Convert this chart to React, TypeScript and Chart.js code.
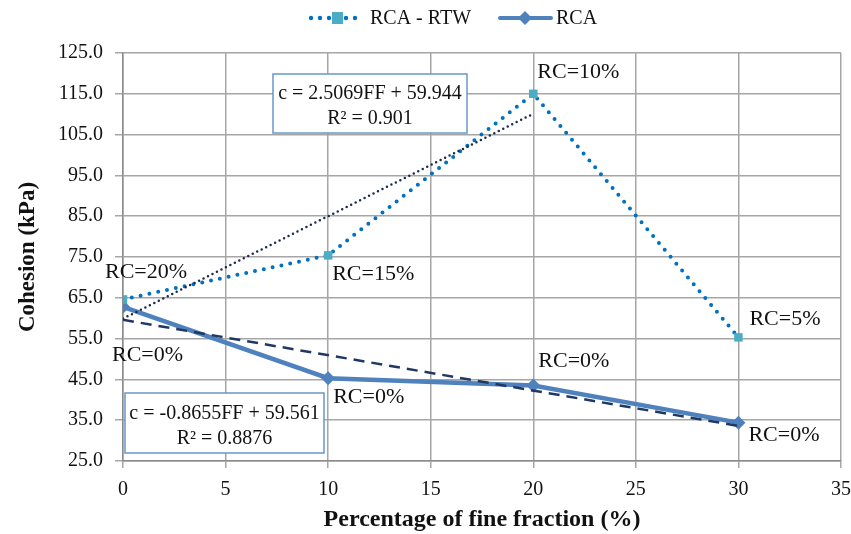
import React, { useEffect, useRef } from "react";
import { Chart, registerables } from "chart.js";

Chart.register(...registerables);

// ---- data ----
const fineFraction = [0, 10, 20, 30];
const cohesionRTW = [64.6, 75.4, 115.0, 55.3];
const cohesionRCA = [62.8, 45.3, 43.5, 34.4];
const pointLabelsRTW = ["RC=20%", "RC=15%", "RC=10%", "RC=5%"];
const pointLabelsRCA = ["RC=0%", "RC=0%", "RC=0%", "RC=0%"];
const trendRTWx = [0, 20];
const trendRTWy = [59.9, 110.1];
const trendRCAx = [0, 30];
const trendRCAy = [59.6, 33.6];
const xTickValues = [0, 5, 10, 15, 20, 25, 30, 35];
const yTickValues = [25, 35, 45, 55, 65, 75, 85, 95, 105, 115, 125];
const equationRTW = ["c = 2.5069FF + 59.944", "R² = 0.901"];
const equationRCA = ["c = -0.8655FF + 59.561", "R² = 0.8876"];
const seriesNames = ["RCA - RTW", "RCA"];

const FONT = "'Liberation Serif', 'Times New Roman', serif";

const toPts = (xs: number[], ys: number[]) => xs.map((x, i) => ({ x, y: ys[i] }));

// label offsets (pixels from the data point: left edge, vertical centre)
const offRTW = [
  [-18, -27],
  [4, 19],
  [4, -22],
  [11, -18],
];
const offRCA = [
  [-11, 48],
  [5, 19],
  [5, -24],
  [10, 13],
];

const annotationPlugin = {
  id: "annots",
  afterDatasetsDraw(chart: any) {
    const { ctx, scales, chartArea } = chart;
    const xs = scales.x;
    const ys = scales.y;
    ctx.save();
    ctx.fillStyle = "#111";
    ctx.font = `22px ${FONT}`;
    ctx.textBaseline = "middle";
    ctx.textAlign = "left";
    fineFraction.forEach((fx, i) => {
      const px = xs.getPixelForValue(fx);
      ctx.fillText(pointLabelsRTW[i], px + offRTW[i][0], ys.getPixelForValue(cohesionRTW[i]) + offRTW[i][1]);
      ctx.fillText(pointLabelsRCA[i], px + offRCA[i][0], ys.getPixelForValue(cohesionRCA[i]) + offRCA[i][1]);
    });

    const drawBox = (lines: string[], x: number, y: number, w: number, h: number) => {
      ctx.fillStyle = "#fff";
      ctx.fillRect(x, y, w, h);
      ctx.strokeStyle = "#6a96cc";
      ctx.lineWidth = 1.5;
      ctx.strokeRect(x, y, w, h);
      ctx.fillStyle = "#111";
      ctx.font = `20px ${FONT}`;
      ctx.textAlign = "center";
      ctx.fillText(lines[0], x + w / 2, y + h * 0.34);
      ctx.fillText(lines[1], x + w / 2, y + h * 0.76);
    };
    drawBox(equationRTW, chartArea.left + 150, chartArea.top + 21, 194, 59);
    drawBox(equationRCA, chartArea.left + 2, chartArea.top + 340, 199, 60);
    ctx.restore();
  },
  afterDraw(chart: any) {
    const { ctx } = chart;
    ctx.save();
    // legend
    const y = 18;
    ctx.fillStyle = "#0070c0";
    for (const dx of [311, 320, 329, 346, 355]) {
      ctx.beginPath();
      ctx.arc(dx, y, 2.2, 0, Math.PI * 2);
      ctx.fill();
    }
    ctx.fillStyle = "#4bacc6";
    ctx.fillRect(332, y - 6, 11, 12);
    ctx.fillStyle = "#111";
    ctx.font = `20px ${FONT}`;
    ctx.textBaseline = "middle";
    ctx.textAlign = "left";
    ctx.fillText(seriesNames[0], 370, y + 1);
    ctx.strokeStyle = "#4f81bd";
    ctx.lineWidth = 4;
    ctx.lineCap = "round";
    ctx.beginPath();
    ctx.moveTo(500, y);
    ctx.lineTo(551, y);
    ctx.stroke();
    ctx.fillStyle = "#4f81bd";
    ctx.beginPath();
    ctx.moveTo(525, y - 7);
    ctx.lineTo(532, y);
    ctx.lineTo(525, y + 7);
    ctx.lineTo(518, y);
    ctx.closePath();
    ctx.fill();
    ctx.fillStyle = "#111";
    ctx.fillText(seriesNames[1], 556, y + 1);
    ctx.restore();
  },
};

export default function App() {
  const ref = useRef<HTMLCanvasElement | null>(null);
  useEffect(() => {
    if (!ref.current) return;
    const chart = new Chart(ref.current, {
      type: "scatter",
      data: {
        datasets: [
          {
            label: seriesNames[0],
            data: toPts(fineFraction, cohesionRTW),
            showLine: true,
            borderColor: "#0070c0",
            borderWidth: 4,
            borderDash: [0, 9],
            borderCapStyle: "round",
            pointStyle: "rect",
            pointRadius: 6,
            pointBackgroundColor: "#4bacc6",
            pointBorderColor: "#4bacc6",
            pointBorderWidth: 0,
            order: 3,
          },
          {
            label: seriesNames[1],
            data: toPts(fineFraction, cohesionRCA),
            showLine: true,
            borderColor: "#4f81bd",
            borderWidth: 4.5,
            pointStyle: "rectRot",
            pointRadius: 7,
            pointBackgroundColor: "#4f81bd",
            pointBorderColor: "#4f81bd",
            pointBorderWidth: 0,
            order: 4,
          },
          {
            label: "trend RTW",
            data: toPts(trendRTWx, trendRTWy),
            showLine: true,
            borderColor: "#1c2b4a",
            borderWidth: 2.5,
            borderDash: [0, 5],
            borderCapStyle: "round",
            pointRadius: 0,
            order: 1,
          },
          {
            label: "trend RCA",
            data: toPts(trendRCAx, trendRCAy),
            showLine: true,
            borderColor: "#1f3864",
            borderWidth: 2.5,
            borderDash: [11, 7],
            pointRadius: 0,
            order: 2,
          },
        ],
      },
      options: {
        animation: false,
        responsive: false,
        layout: { padding: { left: 0, right: 10, top: 53, bottom: 0 } },
        plugins: {
          legend: { display: false },
          tooltip: { enabled: false },
        },
        scales: {
          x: {
            type: "linear",
            min: 0,
            max: 35,
            afterBuildTicks: (s: any) => {
              s.ticks = xTickValues.map((v) => ({ value: v }));
            },
            afterFit: (s: any) => {
              s.height = 73;
              s.paddingLeft = 0;
              s.paddingRight = 0;
            },
            ticks: {
              font: { family: FONT, size: 20 },
              color: "#111",
              padding: 10,
            },
            grid: { color: "#a6a6a6", lineWidth: 1.5, tickLength: 7, tickColor: "#a6a6a6" },
            border: { color: "#8c8c8c", width: 1.5 },
            title: {
              display: true,
              text: "Percentage of fine fraction (%)",
              font: { family: FONT, size: 24, weight: "bold" },
              color: "#111",
              padding: { top: 4, bottom: 0 },
            },
          },
          y: {
            type: "linear",
            min: 25,
            max: 125,
            afterBuildTicks: (s: any) => {
              s.ticks = yTickValues.map((v) => ({ value: v }));
            },
            afterFit: (s: any) => {
              s.width = 123;
              s.paddingTop = 0;
              s.paddingBottom = 0;
            },
            ticks: {
              font: { family: FONT, size: 20 },
              color: "#111",
              padding: 12,
              callback: (v: any) => Number(v).toFixed(1),
            },
            grid: { color: "#a6a6a6", lineWidth: 1.5, tickLength: 8, tickColor: "#a6a6a6" },
            border: { color: "#8c8c8c", width: 1.5 },
            title: {
              display: true,
              text: "Cohesion (kPa)",
              font: { family: FONT, size: 23, weight: "bold" },
              color: "#111",
              padding: { top: 14, bottom: 6 },
            },
          },
        },
      },
      plugins: [annotationPlugin],
    } as any);
    return () => chart.destroy();
  }, []);
  return (
    <div style={{ position: "absolute", left: 0, top: 0, width: 851, height: 534, background: "#fff" }}>
      <canvas ref={ref} width={851} height={534} style={{ display: "block" }} />
    </div>
  );
}
